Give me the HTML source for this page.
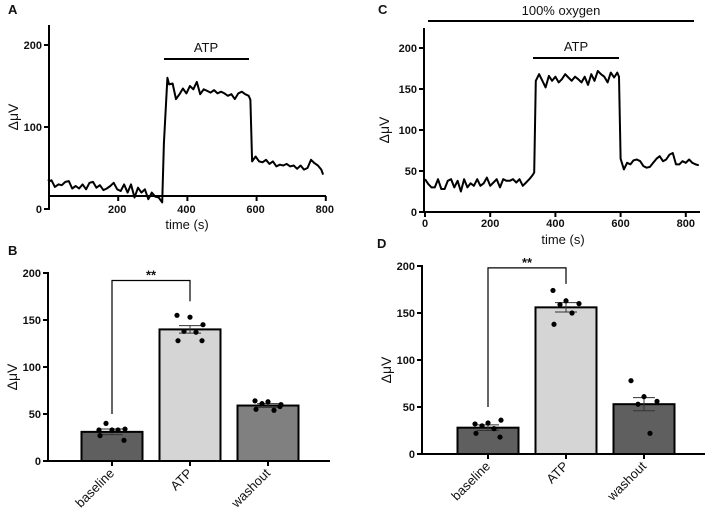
<!DOCTYPE html>
<html><head><meta charset="utf-8"><style>
body{margin:0;background:#fff}
svg{display:block;font-family:"Liberation Sans",Arial,sans-serif}
.tk{font-size:11px;font-weight:bold;fill:#111}
.lb{font-size:13px;fill:#111}
.yl{font-size:14px;fill:#111}
.pl{font-size:13px;font-weight:bold;fill:#111}
</style></head><body>
<svg id="fig" width="709" height="513" viewBox="0 0 709 513"></svg>
<script>
// Panel A trace
const tA=[0,5,10,20,30,40,50,60,70,80,90,100,110,120,130,140,150,160,170,180,190,200,210,220,230,240,250,260,270,280,290,300,310,320,330,335,345,350,360,370,380,390,400,410,420,430,440,450,460,470,480,490,500,510,520,530,540,550,560,570,580,585,590,600,610,620,630,640,650,660,670,680,690,700,710,720,730,740,750,760,770,780,790,795];
const vA=[36,34,35,27,30,29,33,34,25,28,25,30,24,32,33,26,29,23,25,28,32,24,22,30,20,30,14,26,20,24,12,20,15,14,8,80,160,152,153,134,140,147,141,150,146,155,140,146,144,142,145,141,143,141,138,140,134,141,143,140,138,133,58,64,58,57,60,55,58,52,54,53,55,52,53,49,53,48,50,60,56,53,48,42];
// Panel C trace
const tC=[0,10,20,30,40,50,60,70,80,90,100,110,120,130,140,150,160,170,180,190,200,210,220,230,240,250,260,270,280,290,300,310,320,330,335,340,350,360,370,380,390,400,410,420,430,440,450,460,470,480,490,500,510,520,530,540,550,560,570,580,590,595,600,610,620,630,640,650,660,670,680,690,700,710,720,730,740,750,760,770,780,790,800,810,820,830,840];
const vC=[40,34,30,30,40,28,28,38,40,30,38,25,40,30,35,32,40,32,35,42,32,36,40,30,40,38,38,40,36,40,32,36,40,45,48,160,168,160,152,166,160,165,158,162,168,164,160,165,162,158,165,155,168,160,172,168,165,158,170,164,170,165,65,52,60,58,63,64,62,56,54,55,60,65,68,62,64,70,72,58,58,62,60,64,60,58,57];
// Panel B bars
const cats=["baseline","ATP","washout"];
const barsB=[31,140,59];
const semB=[3,4,2];
const ptsB=[[33,33,34,40,33,27,22],[155,153,145,138,137,128,128],[64,63,60,61,54,55,58]];
// Panel D bars
const barsD=[28,156,53];
const semD=[3,5,7];
const ptsD=[[32,33,36,30,27,22,18],[174,163,160,159,150,138],[78,61,56,53,22]];
const ticksAx=[200,400,600,800];
const ticksCx=[0,200,400,600,800];
const ticksAy=[0,100,200];
const ticksCy=[0,50,100,150,200];
const ticksBy=[0,50,100,150,200];

const S=document.getElementById('fig');
const NS='http://www.w3.org/2000/svg';
function mk(tag,at,txt){const e=document.createElementNS(NS,tag);for(const k in at)e.setAttribute(k,at[k]);if(txt!=null)e.textContent=txt;S.appendChild(e);return e;}
function line(x1,y1,x2,y2,w){return mk('line',{x1,y1,x2,y2,stroke:'#000','stroke-width':w||2});}

function ylabel(x,y){const t=mk('text',{x,y,class:'yl','text-anchor':'middle',transform:`rotate(-90 ${x} ${y})`},'ΔμV');

}

function trace(panel,ts,vs,X,Y){let d='';ts.forEach((t,i)=>{d+=(i?'L':'M')+X(t).toFixed(1)+' '+Y(vs[i]).toFixed(1);});
const p=mk('path',{d,fill:'none',stroke:'#000','stroke-width':2,'stroke-linejoin':'round'});

}

// ---- Panel A ----
{const X=t=>48+t*0.346, Y=v=>209-v*0.82;
let t=mk('text',{x:8,y:14,class:'pl'},'A');
line(49,25,49,210);line(48,196,326,196);
ticksAy.forEach(v=>{line(44,Y(v),49,Y(v));const e=mk('text',{x:42,y:Y(v)+4,class:'tk','text-anchor':'end'},v);});
ticksAx.forEach(v=>{line(X(v)+1,196,X(v)+1,201);const e=mk('text',{x:X(v),y:213,class:'tk','text-anchor':'middle'},v);});
t=mk('text',{x:187,y:229,class:'lb','text-anchor':'middle'},'time (s)');
ylabel(18,117);
line(164,59,249,59);t=mk('text',{x:206,y:52,class:'lb','text-anchor':'middle'},'ATP');
trace('panel-a',tA,vA,X,Y);}

// ---- Panel C ----
{const X=t=>425+t*0.326, Y=v=>212-v*0.82;
let t=mk('text',{x:378,y:14,class:'pl'},'C');
line(428,21,694,21);t=mk('text',{x:561,y:15,class:'lb','text-anchor':'middle'},'100% oxygen');
line(424,28,424,213);line(423,212,700,212);
ticksCy.forEach(v=>{line(419,Y(v),424,Y(v));const e=mk('text',{x:417,y:Y(v)+4,class:'tk','text-anchor':'end'},v);});
ticksCx.forEach(v=>{line(X(v),212,X(v),217);const e=mk('text',{x:X(v),y:227,class:'tk','text-anchor':'middle'},v);});
t=mk('text',{x:563,y:244,class:'lb','text-anchor':'middle'},'time (s)');
ylabel(389,130);
line(533,58,619,58);t=mk('text',{x:576,y:51,class:'lb','text-anchor':'middle'},'ATP');
trace('panel-c',tC,vC,X,Y);}

// ---- bar panels ----
const jit=[-13,0,13,-6,6,-12,12];
function barPanel(name,letter,lx,ax,axEnd,y0,y200,centers,bw,vals,sems,pts,colors,br){
 const Y=v=>y0-(y0-y200)*v/200;
 let t=mk('text',{x:lx,y:y200-18,class:'pl'},letter);
 ylabel(ax-31,(y0+y200)/2+10);
 line(ax,y200-1,ax,y0+1);line(ax-1,y0,axEnd,y0);
 ticksBy.forEach(v=>{line(ax-5,Y(v),ax,Y(v));const e=mk('text',{x:ax-7,y:Y(v)+4,class:'tk','text-anchor':'end'},v);});
 centers.forEach((c,i)=>{
  const r=mk('rect',{x:c-bw/2,y:Y(vals[i]),width:bw,height:y0-Y(vals[i]),fill:colors[i],stroke:'#000','stroke-width':2});
  
  line(c,y0,c,y0+5);
  const hi=Y(vals[i]+sems[i]),lo=Y(vals[i]-sems[i]);
  mk('line',{x1:c,y1:hi,x2:c,y2:lo,stroke:'#333','stroke-width':1});
  mk('line',{x1:c-11,y1:hi,x2:c+11,y2:hi,stroke:'#333','stroke-width':1});
  mk('line',{x1:c-11,y1:lo,x2:c+11,y2:lo,stroke:'#333','stroke-width':1});
  pts[i].forEach((v,j)=>{
   const p=mk('circle',{cx:c+jit[j%jit.length],cy:Y(v),r:2.6,fill:'#000'});});
  const tx=mk('text',{x:c+3,y:y0+13,class:'lb','text-anchor':'end',transform:`rotate(-45 ${c+3} ${y0+13})`},cats[i]);
  
 });
 const p=mk('path',{d:`M${centers[0]} ${Y(br[0])}V${Y(br[1])}H${centers[1]}V${Y(br[2])}`,fill:'none',stroke:'#000','stroke-width':1.2});
 
 t=mk('text',{x:(centers[0]+centers[1])/2,y:Y(br[1])-1,class:'pl','text-anchor':'middle'},'**');
}
barPanel('panel-b','B',8,48,330,461,273,[112,190,268],61,barsB,semB,ptsB,['#5f5f5f','#d5d5d5','#808080'],[50,192,170]);
barPanel('panel-d','D',377,422,705,454,266,[488,566,644],61,barsD,semD,ptsD,['#5f5f5f','#d5d5d5','#5f5f5f'],[50,198,181]);
</script>
</body></html>
